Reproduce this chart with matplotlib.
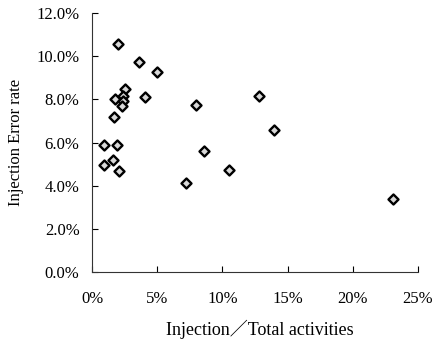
import matplotlib
matplotlib.use("Agg")
from matplotlib import pyplot as plt
from matplotlib.ticker import FuncFormatter

# injection share of total activities (%) vs injection error rate (%)
inj_share = [2.0, 3.6, 5.0, 2.5, 1.8, 4.1, 2.4, 2.4, 2.3, 8.0, 12.8, 1.7,
             14.0, 0.9, 1.9, 8.6, 1.6, 0.9, 2.1, 10.5, 7.2, 23.1]
err_rate = [10.55, 9.72, 9.29, 8.48, 8.01, 8.09, 8.17, 7.94, 7.71, 7.74, 8.17, 7.2,
            6.58, 5.9, 5.9, 5.63, 5.21, 4.97, 4.66, 4.74, 4.14, 3.38]

x_ticks = [0, 5, 10, 15, 20, 25]
y_ticks = [0, 2, 4, 6, 8, 10, 12]

plt.rcParams['font.family'] = ['Liberation Serif', 'Noto Sans CJK JP']

fig = plt.figure(figsize=(4.33, 3.39), dpi=100)
ax = fig.add_axes([0.2125, 0.1976, 0.7525, 0.764])

ax.scatter(inj_share, err_rate, marker='D', s=26, facecolor='#d8d8d8',
           edgecolor='black', linewidths=1.7, zorder=3)

ax.set_xlim(0, 25)
ax.set_ylim(0, 12)
ax.set_xticks(x_ticks)
ax.set_yticks(y_ticks)
ax.xaxis.set_major_formatter(FuncFormatter(lambda v, p: f"{v:.0f}%"))
ax.yaxis.set_major_formatter(FuncFormatter(lambda v, p: f"{v:.1f}%"))
ax.tick_params(direction='in', length=4, width=0.8, labelsize=12)
ax.tick_params(axis='x', pad=14)
ax.tick_params(axis='y', pad=9)

for s in ['top', 'right']:
    ax.spines[s].set_visible(False)
for s in ['left', 'bottom']:
    ax.spines[s].set_linewidth(0.8)
    ax.spines[s].set_color('#333333')

ax.set_xlabel("Injection／Total activities", fontsize=13, labelpad=8)
ax.xaxis.set_label_coords(0.515, -0.185)
ax.set_ylabel("Injection Error rate", fontsize=12, labelpad=9)

fig.savefig("out.png", dpi=100)
